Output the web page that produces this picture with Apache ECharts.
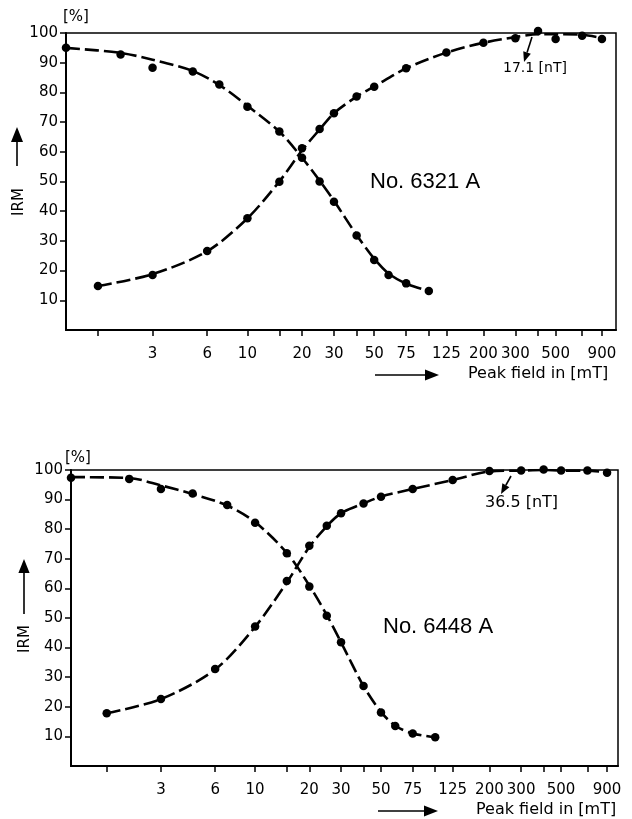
<!DOCTYPE html>
<html>
<head>
<meta charset="utf-8">
<script src="https://cdn.jsdelivr.net/npm/echarts@6/dist/echarts.min.js"></script>
<style>
  html, body { margin: 0; padding: 0; background: #fff; }
  #main { width: 632px; height: 819px; }
</style>
</head>
<body>
<div id="main"></div>
<script>
// peak field steps in mT (first AF step is the NRM, sitting on the axis)
const xTicks = [1.5, 3, 6, 10, 15, 20, 30, 40, 50, 75, 100, 125, 200, 300, 400, 500, 700, 900];
const xLabels = [3, 6, 10, 20, 30, 50, 75, 125, 200, 300, 500, 900];
const yTicks = [10, 20, 30, 40, 50, 60, 70, 80, 90, 100];

// No. 6321 A
const afField6321 = [1, 2, 3, 5, 7, 10, 15, 20, 25, 30, 40, 50, 60, 75, 100];
const af6321 = [95, 92.8, 88.3, 87, 82.7, 75.2, 66.8, 58, 50, 43.2, 31.8, 23.6, 18.5, 15.7, 13.1];
const af6321Curve = [95, 93.3, 91, 87.2, 82.5, 75.5, 66.8, 58, 50.3, 43.5, 32, 24, 19, 15.6, 13.1];
const irmField6321 = [1.5, 3, 6, 10, 15, 20, 25, 30, 40, 50, 75, 125, 200, 300, 400, 500, 700, 900];
const irm6321 = [14.8, 18.5, 26.6, 37.6, 49.9, 61.2, 67.7, 73, 78.6, 81.9, 88.1, 93.4, 96.7, 98.2, 100.7, 98, 99.1, 98];
const irm6321Curve = [14.8, 18.8, 26.5, 37.6, 50, 60.5, 67.5, 73, 78.6, 82, 88.1, 93.4, 96.7, 98.6, 99.6, 99.6, 99.4, 98.3];

// No. 6448 A
const afField6448 = [0.95, 2, 3, 4.5, 7, 10, 15, 20, 25, 30, 40, 50, 60, 75, 100];
const af6448 = [97.4, 97, 93.6, 92.1, 88.2, 82.2, 71.9, 60.6, 50.8, 41.8, 27, 18.1, 13.5, 11, 9.7];
const af6448Curve = [97.6, 97.3, 94.8, 91.9, 88, 82.4, 72, 61, 51, 41.8, 27, 18.3, 13.6, 11, 9.7];
const irmField6448 = [1.5, 3, 6, 10, 15, 20, 25, 30, 40, 50, 75, 125, 200, 300, 400, 500, 700, 900];
const irm6448 = [17.8, 22.6, 32.8, 47.1, 62.5, 74.4, 81.2, 85.4, 88.7, 91, 93.6, 96.6, 99.7, 99.8, 100.2, 99.8, 99.8, 99.1];
const irm6448Curve = [17.8, 22.6, 32.6, 47, 62, 74, 81, 85.4, 88.7, 91, 93.6, 96.6, 99.5, 99.8, 100, 99.8, 99.8, 99.2];

const zip = (xs, ys) => xs.map((x, i) => [x, ys[i]]);
const FONT = 'DejaVu Sans';

function xAxis(gi, min, max) {
  return {
    type: 'log', logBase: 10, gridIndex: gi, min: min, max: max,
    axisLine: { show: true, onZero: false, lineStyle: { color: '#000', width: 2 } },
    axisTick: { show: true, customValues: xTicks, length: 6, lineStyle: { color: '#000', width: 1.5 } },
    axisLabel: {
      customValues: xLabels, color: '#000', fontFamily: FONT, fontSize: 15, margin: 17,
      formatter: v => String(Math.round(v))
    },
    splitLine: { show: false },
    minorTick: { show: false }
  };
}

function yAxis(gi) {
  return {
    type: 'value', gridIndex: gi, min: 0, max: 100, interval: 10,
    axisLine: { show: true, onZero: false, lineStyle: { color: '#000', width: 2 } },
    axisTick: { show: true, customValues: yTicks, length: 6, lineStyle: { color: '#000', width: 1.5 } },
    axisLabel: { customValues: yTicks, color: '#000', fontFamily: FONT, fontSize: 15, margin: 8 },
    splitLine: { show: false }
  };
}

function curve(gi, data) {
  return {
    type: 'line', xAxisIndex: gi, yAxisIndex: gi, data: data,
    showSymbol: false, smooth: 0.3, silent: true,
    lineStyle: { color: '#000', width: 2.6, type: [14, 5] }
  };
}

function dots(gi, data) {
  return {
    type: 'scatter', xAxisIndex: gi, yAxisIndex: gi, data: data, clip: false,
    symbol: 'circle', symbolSize: 8.5, itemStyle: { color: '#000', opacity: 1 }, z: 5
  };
}

function text(x, y, str, size, extra) {
  return Object.assign({
    type: 'text', x: x, y: y,
    style: { text: str, fill: '#000', font: size + 'px "' + FONT + '"', textVerticalAlign: 'middle' }
  }, extra || {});
}

function vtext(x, y, str, size) {
  return {
    type: 'text', x: x, y: y, rotation: Math.PI / 2,
    style: { text: str, fill: '#000', font: size + 'px "' + FONT + '"', textAlign: 'center', textVerticalAlign: 'middle' }
  };
}

function arrow(x1, y1, x2, y2, head) {
  const a = Math.atan2(y2 - y1, x2 - x1);
  const bx = x2 - head * Math.cos(a), by = y2 - head * Math.sin(a);
  const w = head * 0.4;
  return [
    { type: 'line', shape: { x1: x1, y1: y1, x2: bx, y2: by }, style: { stroke: '#000', lineWidth: 1.6 } },
    { type: 'polygon', shape: { points: [
        [x2, y2],
        [bx + w * Math.sin(a), by - w * Math.cos(a)],
        [bx - w * Math.sin(a), by + w * Math.cos(a)]
      ] }, style: { fill: '#000' } }
  ];
}

const graphics = [
  text(63, 17, '[%]', 15),
  text(65, 458, '[%]', 15),
  vtext(19, 202, 'IRM', 15),
  vtext(25, 639, 'IRM', 15),
  { type: 'text', x: 370, y: 182, style: { text: 'No. 6321 A', fill: '#000', font: '22px "Liberation Sans"', textVerticalAlign: 'middle' } },
  { type: 'text', x: 383, y: 627, style: { text: 'No. 6448 A', fill: '#000', font: '22px "Liberation Sans"', textVerticalAlign: 'middle' } },
  text(503, 68, '17.1 [nT]', 14),
  text(485, 503, '36.5 [nT]', 16),
  text(468, 374, 'Peak field in [mT]', 16),
  text(476, 810, 'Peak field in [mT]', 16)
].concat(
  arrow(17, 166, 17, 127, 15),
  arrow(24, 614, 24, 559, 14),
  arrow(375, 375, 439, 375, 14),
  arrow(378, 811, 438, 811, 14),
  arrow(532, 37, 524, 62, 10),
  arrow(511, 476, 501, 494, 10)
);

const chart = echarts.init(document.getElementById('main'));
chart.setOption({
  backgroundColor: '#fff',
  animation: false,
  grid: [
    { left: 66, top: 33, right: 16, height: 297, show: true, borderColor: '#000', borderWidth: 1.5 },
    { left: 71, top: 470, right: 14, height: 296, show: true, borderColor: '#000', borderWidth: 1.5 }
  ],
  xAxis: [xAxis(0, 1, 1076), xAxis(1, 0.95, 1035)],
  yAxis: [yAxis(0), yAxis(1)],
  series: [
    curve(0, zip(afField6321, af6321Curve)),
    curve(0, zip(irmField6321, irm6321Curve)),
    dots(0, zip(afField6321, af6321)),
    dots(0, zip(irmField6321, irm6321)),
    curve(1, zip(afField6448, af6448Curve)),
    curve(1, zip(irmField6448, irm6448Curve)),
    dots(1, zip(afField6448, af6448)),
    dots(1, zip(irmField6448, irm6448))
  ],
  graphic: graphics
});
</script>
</body>
</html>
